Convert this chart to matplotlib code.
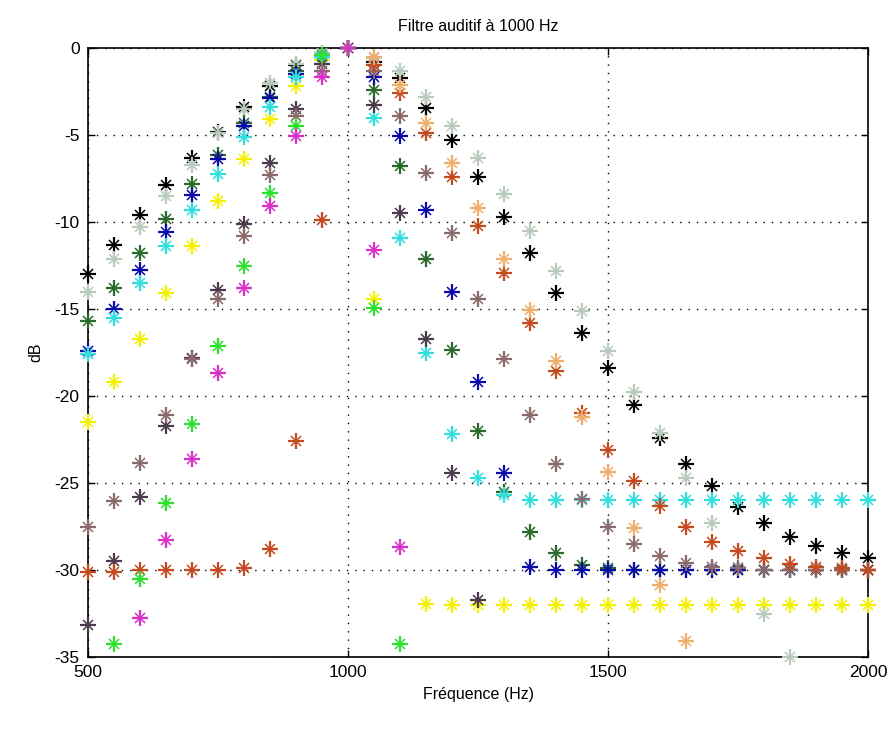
import numpy as np
import matplotlib
matplotlib.use('Agg')
import matplotlib.pyplot as plt

nan = np.nan
freqs = list(range(500, 2001, 50))

black = [-13.0, -11.3, -9.6, -7.9, -6.3, -4.8, -3.4, -2.2, -1.0, -0.3, 0,
         -0.8, -1.7, -3.45, -5.3, -7.4, -9.7, -11.8, -14.1, -16.4, -18.4,
         -20.5, -22.4, -23.9, -25.2, -26.4, -27.3, -28.1, -28.6, -29.0, -29.3]
light_gray = [-14.0, -12.1, -10.3, -8.5, -6.7, -4.9, -3.5, -2.0, -0.9, -0.3, 0,
              -0.6, -1.3, -2.8, -4.5, -6.3, -8.4, -10.5, -12.8, -15.1, -17.4,
              -19.75, -22.1, -24.7, -27.3, -29.8, -32.5, -35.0, nan, nan, nan]
dark_green = [-15.7, -13.8, -11.8, -9.8, -7.8, -6.15, -4.3, -2.8, -1.3, -0.4, 0,
              -2.4, -6.8, -12.1, -17.35, -22.0, -25.5, -27.8, -29.0, -29.7, -29.9,
              -30.0, -30.0, -30.0, -30.0, -30.0, -30.0, -30.0, -30.0, -30.0, -30.0]
blue = [-17.4, -15.0, -12.75, -10.55, -8.45, -6.4, -4.5, -2.9, -1.5, -0.5, 0,
        -1.65, -5.05, -9.3, -14.0, -19.2, -24.4, -29.85, -30.0, -30.0, -30.0,
        -30.0, -30.0, -30.0, -30.0, -30.0, -30.0, -30.0, -30.0, -30.0, -30.0]
cyan = [-17.6, -15.5, -13.5, -11.4, -9.3, -7.25, -5.1, -3.4, -1.65, -0.5, 0,
        -4.0, -10.9, -17.5, -22.2, -24.7, -25.7, -26.0, -26.0, -26.0, -26.0,
        -26.0, -26.0, -26.0, -26.0, -26.0, -26.0, -26.0, -26.0, -26.0, -26.0]
yellow = [-21.5, -19.2, -16.7, -14.1, -11.4, -8.8, -6.4, -4.1, -2.2, -0.7, 0,
          -14.45, nan, -31.95, -32.0, -32.0, -32.0, -32.0, -32.0, -32.0, -32.0,
          -32.0, -32.0, -32.0, -32.0, -32.0, -32.0, -32.0, -32.0, -32.0, -32.0]
dark_slate = [-33.15, -29.5, -25.8, -21.7, -17.8, -13.9, -10.1, -6.6, -3.5, -0.9, 0,
              -3.3, -9.5, -16.75, -24.4, -31.7, nan, nan, nan, nan, nan,
              nan, nan, nan, nan, nan, nan, nan, nan, nan, nan]
mauve = [-27.55, -26.05, -23.85, -21.1, -17.9, -14.45, -10.8, -7.3, -3.9, -1.3, 0,
         -1.3, -3.9, -7.2, -10.65, -14.45, -17.9, -21.1, -23.9, -25.9, -27.5,
         -28.5, -29.2, -29.6, -29.8, -29.9, -30.0, -30.0, -30.0, -30.0, -30.0]
orange_red = [-30.1, -30.1, -30.0, -30.0, -30.0, -30.0, -29.9, -28.8, -22.6, -9.9, 0,
              -1.0, -2.6, -4.9, -7.4, -10.25, -12.95, -15.8, -18.55, -21.0, -23.1,
              -24.9, -26.3, -27.55, -28.4, -28.9, -29.3, -29.65, -29.8, -29.9, -30.0]
tan = [nan, nan, nan, nan, nan, nan, nan, nan, nan, nan, 0,
       -0.5, -2.1, -4.3, -6.6, -9.2, -12.1, -15.05, -18.0, -21.2, -24.35,
       -27.6, -30.85, -34.1, nan, nan, nan, nan, nan, nan, nan]
lime = [nan, -34.25, -30.5, -26.15, -21.6, -17.1, -12.5, -8.35, -4.5, -0.4, 0,
        -14.95, -34.25, nan, nan, nan, nan, nan, nan, nan, nan,
        nan, nan, nan, nan, nan, nan, nan, nan, nan, nan]
magenta = [nan, nan, -32.75, -28.3, -23.6, -18.65, -13.8, -9.1, -5.05, -1.65, 0,
           -11.6, -28.65, nan, nan, nan, nan, nan, nan, nan, nan,
           nan, nan, nan, nan, nan, nan, nan, nan, nan, nan]

series = [
    (black, '#000000'),
    (yellow, '#f5f000'),
    (light_gray, '#b8cabc'),
    (dark_green, '#2a6a2a'),
    (blue, '#0a0aa8'),
    (cyan, '#30dede'),
    (dark_slate, '#4b3a4b'),
    (mauve, '#8a6a6a'),
    (orange_red, '#c44a1e'),
    (tan, '#f0ae6c'),
    (lime, '#2ee02e'),
    (magenta, '#d830c8'),
]

plt.rcParams['font.family'] = ['Liberation Sans', 'DejaVu Sans']
plt.rcParams['axes.unicode_minus'] = False
fig = plt.figure(figsize=(8.96, 7.31), dpi=100)
ax = fig.add_axes([88/896, 1-657/731, (868-88)/896, (657-48)/731])

for vals, col in series:
    ax.plot(freqs, vals, linestyle='none', marker='+', markersize=12,
            markeredgewidth=1.6, color=col, clip_on=False, zorder=3)
    ax.plot(freqs, vals, linestyle='none', marker='x', markersize=6.5,
            markeredgewidth=1.1, color=col, clip_on=False, zorder=3)

ax.set_xlim(500, 2000)
ax.set_ylim(-35, 0)
ax.set_xticks([500, 1000, 1500, 2000])
ax.set_yticks(list(range(-35, 1, 5)))
ax.set_axisbelow(True)
ax.grid(True, color='black', linestyle=(0, (1, 5)), linewidth=1.0)
ax.tick_params(direction='in', length=5, top=True, right=True,
               labelsize=12.5, width=1, pad=6)
for s in ax.spines.values():
    s.set_linewidth(1.2)
ax.set_title('Filtre auditif à 1000 Hz', fontsize=11.5, pad=12)
ax.set_xlabel('Fréquence (Hz)', fontsize=11.5, labelpad=5)
ax.set_ylabel('dB', fontsize=11.5, labelpad=8)

fig.savefig('out.png', dpi=100)
